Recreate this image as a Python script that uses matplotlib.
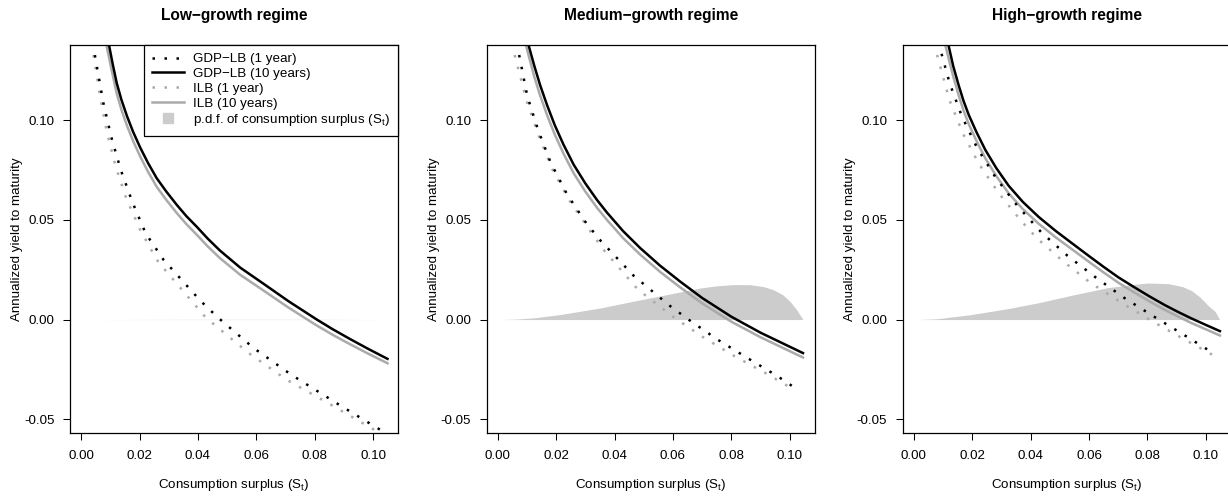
#!/usr/bin/env python3

import matplotlib
matplotlib.use("Agg")
import matplotlib.pyplot as plt
from matplotlib.lines import Line2D

plt.rcParams["font.family"] = ["Liberation Sans", "DejaVu Sans"]
plt.rcParams["mathtext.fontset"] = "custom"
plt.rcParams["mathtext.rm"] = "Liberation Sans"
plt.rcParams["mathtext.it"] = "Liberation Sans:italic"

titles = ["Low\u2212growth regime", "Medium\u2212growth regime", "High\u2212growth regime"]
x_ticks = [0.00, 0.02, 0.04, 0.06, 0.08, 0.10]
y_ticks = [-0.05, 0.00, 0.05, 0.10]

# low-growth regime
low_gdp1_s = [0.0042, 0.0048, 0.0076, 0.0103, 0.0136, 0.0176, 0.0221, 0.0282, 0.0408, 0.0467, 0.0590, 0.0720, 0.0890, 0.1027]
low_gdp1_y = [0.1385, 0.1317, 0.1087, 0.0916, 0.0749, 0.0587, 0.0432, 0.0300, 0.0095, 0.0012, -0.0142, -0.0277, -0.0433, -0.0555]
low_gdp10_s = [0.0095, 0.0108, 0.0122, 0.0138, 0.0157, 0.0178, 0.0202, 0.0229, 0.0259, 0.0292, 0.0328, 0.0360,
               0.0396, 0.0434, 0.0476, 0.0545, 0.0624, 0.0710, 0.0807, 0.0862, 0.0920, 0.0983, 0.1049]
low_gdp10_y = [0.1380, 0.1282, 0.1185, 0.1102, 0.1020, 0.0941, 0.0863, 0.0785, 0.0708, 0.0641, 0.0574, 0.0519,
               0.0465, 0.0405, 0.0345, 0.0260, 0.0180, 0.0092, 0.0000, -0.0049, -0.0097, -0.0147, -0.0197]
low_ilb1_s = [0.0036, 0.0040, 0.0065, 0.0088, 0.0118, 0.0156, 0.0204, 0.0242, 0.0265, 0.0421, 0.0450, 0.0573, 0.0704, 0.0847, 0.1022]
low_ilb1_y = [0.1385, 0.1350, 0.1117, 0.0941, 0.0769, 0.0602, 0.0445, 0.0345, 0.0287, 0.0020, -0.0018, -0.0167, -0.0302, -0.0420, -0.0568]
low_ilb10_s = [0.0086, 0.0108, 0.0122, 0.0138, 0.0157, 0.0178, 0.0202, 0.0229, 0.0259, 0.0292, 0.0328, 0.0360,
               0.0396, 0.0434, 0.0476, 0.0545, 0.0624, 0.0710, 0.0807, 0.0862, 0.0920, 0.0983, 0.1049]
low_ilb10_y = [0.1380, 0.1227, 0.1133, 0.1052, 0.0972, 0.0895, 0.0818, 0.0741, 0.0665, 0.0599, 0.0533, 0.0479,
               0.0425, 0.0366, 0.0307, 0.0224, 0.0146, 0.0060, -0.0030, -0.0077, -0.0123, -0.0171, -0.0219]
low_pdf_s = [0.0040, 0.0200, 0.0400, 0.0600, 0.0800, 0.1045]
low_pdf_y = [0.0, 0.00005, 0.0001, 0.00012, 0.0001, 0.0]

# medium-growth regime
med_gdp1_s = [0.0066, 0.0070, 0.0101, 0.0138, 0.0181, 0.0237, 0.0303, 0.0354, 0.0465, 0.0588, 0.0653, 0.0752, 0.0854, 0.0957, 0.1025]
med_gdp1_y = [0.1385, 0.1350, 0.1120, 0.0950, 0.0787, 0.0628, 0.0483, 0.0392, 0.0220, 0.0070, 0.0000, -0.0100, -0.0192, -0.0283, -0.0350]
med_gdp10_s = [0.0104, 0.0125, 0.0145, 0.0169, 0.0195, 0.0225, 0.0260, 0.0300, 0.0340, 0.0374, 0.0430, 0.0488,
               0.0555, 0.0624, 0.0700, 0.0800, 0.0900, 0.1045]
med_gdp10_y = [0.1383, 0.1272, 0.1175, 0.1074, 0.0975, 0.0877, 0.0776, 0.0682, 0.0599, 0.0536, 0.0442, 0.0358,
               0.0271, 0.0191, 0.0108, 0.0014, -0.0066, -0.0168]
med_ilb1_s = [0.0052, 0.0058, 0.0100, 0.0141, 0.0186, 0.0244, 0.0312, 0.0362, 0.0480, 0.0606, 0.0707, 0.0810, 0.0915, 0.1017]
med_ilb1_y = [0.1385, 0.1325, 0.1090, 0.0920, 0.0755, 0.0600, 0.0453, 0.0350, 0.0150, 0.0008, -0.0092, -0.0183, -0.0267, -0.0353]
med_ilb10_s = [0.0092, 0.0125, 0.0145, 0.0169, 0.0195, 0.0225, 0.0260, 0.0300, 0.0340, 0.0374, 0.0430, 0.0488,
               0.0555, 0.0624, 0.0700, 0.0800, 0.0900, 0.1045]
med_ilb10_y = [0.1400, 0.1217, 0.1123, 0.1024, 0.0928, 0.0832, 0.0733, 0.0641, 0.0560, 0.0499, 0.0407, 0.0325,
               0.0240, 0.0162, 0.0081, -0.0011, -0.0089, -0.0190]
med_pdf_s = [0.0009, 0.0060, 0.0120, 0.0214, 0.0351, 0.0465, 0.0579, 0.0693, 0.0750, 0.0807, 0.0863, 0.0910, 0.0943, 0.0975, 0.1000, 0.1023, 0.1045]
med_pdf_y = [0.0, 0.0002, 0.0008, 0.0025, 0.0058, 0.0092, 0.0125, 0.0158, 0.0169, 0.0175, 0.0175, 0.0165, 0.0150, 0.0125, 0.0092, 0.0050, 0.0]

# high-growth regime
high_gdp1_s = [0.0085, 0.0091, 0.0123, 0.0165, 0.0218, 0.0281, 0.0354, 0.0436, 0.0526, 0.0622, 0.0719, 0.0822, 0.0925, 0.1027]
high_gdp1_y = [0.1390, 0.1353, 0.1183, 0.1017, 0.0857, 0.0710, 0.0571, 0.0438, 0.0320, 0.0212, 0.0110, 0.0015, -0.0077, -0.0170]
high_gdp10_s = [0.0118, 0.0135, 0.0154, 0.0170, 0.0188, 0.0215, 0.0245, 0.0282, 0.0325, 0.0373, 0.0427, 0.0485,
                0.0551, 0.0600, 0.0650, 0.0700, 0.0757, 0.0807, 0.0860, 0.0905, 0.0950, 0.1000, 0.1048]
high_gdp10_y = [0.1380, 0.1270, 0.1172, 0.1097, 0.1026, 0.0938, 0.0850, 0.0760, 0.0670, 0.0590, 0.0515, 0.0445,
                0.0372, 0.0318, 0.0264, 0.0212, 0.0160, 0.0116, 0.0072, 0.0038, 0.0006, -0.0027, -0.0058]
high_ilb1_s = [0.0072, 0.0080, 0.0122, 0.0168, 0.0223, 0.0291, 0.0366, 0.0422, 0.0511, 0.0606, 0.0708, 0.0812, 0.0917, 0.1023]
high_ilb1_y = [0.1385, 0.1325, 0.1100, 0.0933, 0.0780, 0.0633, 0.0497, 0.0407, 0.0292, 0.0183, 0.0087, -0.0005, -0.0092, -0.0177]
high_ilb10_s = [0.0106, 0.0135, 0.0154, 0.0170, 0.0188, 0.0215, 0.0245, 0.0282, 0.0325, 0.0373, 0.0427, 0.0485,
                0.0551, 0.0600, 0.0650, 0.0700, 0.0757, 0.0807, 0.0860, 0.0905, 0.0950, 0.1000, 0.1048]
high_ilb10_y = [0.1385, 0.1218, 0.1122, 0.1049, 0.0980, 0.0894, 0.0808, 0.0720, 0.0632, 0.0554, 0.0481, 0.0413,
                0.0342, 0.0289, 0.0236, 0.0185, 0.0134, 0.0091, 0.0048, 0.0015, -0.0017, -0.0049, -0.0080]
high_pdf_s = [0.0016, 0.0080, 0.0193, 0.0323, 0.0430, 0.0535, 0.0665, 0.0764, 0.0802, 0.0871, 0.0920, 0.0951, 0.0980, 0.1008, 0.1032, 0.1047]
high_pdf_y = [0.0, 0.0004, 0.0024, 0.0055, 0.0085, 0.0120, 0.0160, 0.0178, 0.0183, 0.0180, 0.0165, 0.0145, 0.0112, 0.0070, 0.0040, 0.0]

GRAY = "#aaaaaa"
SHADE = "#cccccc"
DOTS = (0, (1, 3.8))
LW = 1.8
FS = 9.6

def get_handles():
  return [
    Line2D([], [], color="black", lw=LW, linestyle=DOTS),
    Line2D([], [], color="black", lw=LW),
    Line2D([], [], color=GRAY, lw=LW, linestyle=DOTS),
    Line2D([], [], color=GRAY, lw=LW),
    Line2D([], [], color=SHADE, marker="s", markersize=7, linestyle="none"),
  ]

def get_labels():
  return [
    "GDP\u2212LB (1 year)",
    "GDP\u2212LB (10 years)",
    "ILB (1 year)",
    "ILB (10 years)",
    r"p.d.f. of consumption surplus (S$_\mathrm{t}$)",
  ]

def plot(ax, title, gdp1, gdp10, ilb1, ilb10, pdf, legend=False):
  ax.fill_between(pdf[0], 0, pdf[1], color=SHADE, lw=0, zorder=1)
  ax.plot(gdp1[0], gdp1[1], color="black", lw=LW, linestyle=DOTS, zorder=3)
  ax.plot(gdp10[0], gdp10[1], color="black", lw=LW, zorder=3)
  ax.plot(ilb1[0], ilb1[1], color=GRAY, lw=LW, linestyle=DOTS, zorder=2)
  ax.plot(ilb10[0], ilb10[1], color=GRAY, lw=LW, zorder=2)

  ax.set_xlim(-0.0038, 0.1085)
  ax.set_ylim(-0.0570, 0.1376)
  ax.set_xticks(x_ticks)
  ax.set_yticks(y_ticks)
  ax.set_xticklabels(["%.2f" % v for v in x_ticks])
  ax.set_yticklabels(["%.2f" % v for v in y_ticks])
  ax.tick_params(direction="out", length=5.3, width=0.75, labelsize=FS)
  ax.tick_params(axis="x", pad=6.8)
  ax.tick_params(axis="y", pad=5.8)
  for spine in ax.spines.values():
    spine.set_linewidth(0.9)

  ax.set_xlabel(r"Consumption surplus (S$_\mathrm{t}$)", fontsize=FS)
  ax.set_ylabel("Annualized yield to maturity", fontsize=FS)
  ax.xaxis.set_label_coords(0.5, -0.112)
  ax.yaxis.set_label_coords(-0.143, 0.5)
  ax.text(0.5, 1.0755, title, transform=ax.transAxes, ha="center", va="center",
          fontsize=11.2, fontweight="bold")

  if legend:
    leg = ax.legend(get_handles(), get_labels(), loc="upper right", bbox_to_anchor=(1, 1),
                    borderaxespad=0, fancybox=False, edgecolor="black", framealpha=1,
                    fontsize=FS, handlelength=2.4, handletextpad=0.7, labelspacing=0.18,
                    borderpad=0.6)
    leg.get_frame().set_linewidth(0.9)

if __name__ == "__main__":

  fig = plt.figure(figsize=(12.28, 4.97), dpi=100)

  lefts = [0.0570, 0.3963, 0.7351]
  data = [
    ((low_gdp1_s, low_gdp1_y), (low_gdp10_s, low_gdp10_y), (low_ilb1_s, low_ilb1_y),
     (low_ilb10_s, low_ilb10_y), (low_pdf_s, low_pdf_y)),
    ((med_gdp1_s, med_gdp1_y), (med_gdp10_s, med_gdp10_y), (med_ilb1_s, med_ilb1_y),
     (med_ilb10_s, med_ilb10_y), (med_pdf_s, med_pdf_y)),
    ((high_gdp1_s, high_gdp1_y), (high_gdp10_s, high_gdp10_y), (high_ilb1_s, high_ilb1_y),
     (high_ilb10_s, high_ilb10_y), (high_pdf_s, high_pdf_y)),
  ]

  for k in range(3):
    ax = fig.add_axes([lefts[k], 0.1282, 0.2671, 0.7813])
    plot(ax, titles[k], *data[k], legend=(k == 0))

  fig.savefig("out.png", dpi=100)
